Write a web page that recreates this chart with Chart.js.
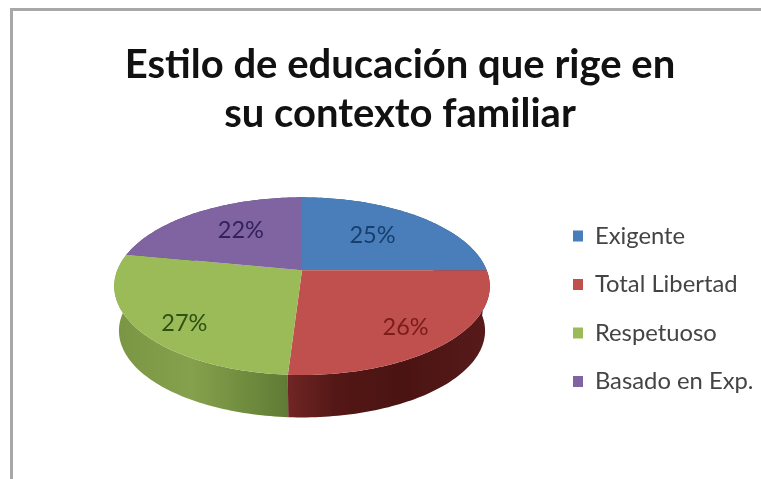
<!DOCTYPE html>
<html><head><meta charset="utf-8">
<style>
html,body{margin:0;padding:0;background:#fff;overflow:hidden}
#wrap{position:relative;width:761px;height:479px}
canvas{position:absolute;left:0;top:0;filter:blur(0.6px)}
#frame{position:absolute;left:10px;top:8px;right:0;bottom:0;border-top:3px solid #a8a8a8;border-left:3px solid #a8a8a8;filter:blur(0.5px)}
</style>
<script src="https://cdn.jsdelivr.net/npm/chart.js@4"></script>
</head><body><div id="wrap"><div id="frame"></div><canvas id="c" width="761" height="479"></canvas></div>
<script>
const titleLines = ["Estilo de educación que rige en", "su contexto familiar"];
const categories = ["Exigente", "Total Libertad", "Respetuoso", "Basado en Exp."];
const shares = [25, 26, 27, 22];
const topColors = ["#4a7ebb", "#c0504d", "#9bbb59", "#8064a2"];
const labelColors = ["#173f6e", "#7a1c1a", "#2f5112", "#33205f"];
const sideStops = [
  ["#3a6390", "#2f5077"],
  ["#6e2523", "#541715", "#4a1412", "#571a1a"],
  ["#7a9644", "#86a14d", "#6f8c3e", "#5e7a35"],
  ["#604a7b", "#4f3c66"]
];
const labelRadius = [0.58, 0.74, 0.74, 0.56];
const labelDrop = [-2, 6, 11, -5];

const stretchX = 185 / 120, stretchY = 86.1 / 120, tilt = -0.18;
const depth = 45, bottomScale = 0.975;

function project(arc, ang, r, scale, drop) {
  const x = Math.cos(ang) * r, y = Math.sin(ang) * r, den = 1 + tilt * y, R = arc.outerRadius;
  return [arc.x + scale * R * stretchX * x / den, arc.y + scale * R * stretchY * y / den + drop];
}
function trace(ctx, arc, a0, a1, scale, drop, first) {
  const n = Math.max(4, Math.ceil(Math.abs(a1 - a0) * 48));
  for (let i = 0; i <= n; i++) {
    const p = project(arc, a0 + (a1 - a0) * i / n, 1, scale, drop);
    if (i === 0 && first) ctx.moveTo(p[0], p[1]); else ctx.lineTo(p[0], p[1]);
  }
}
const tiltedPie = {
  id: "tiltedPie",
  afterLayout(chart) {
    const lg = chart.legend;
    lg.left = 548.3; lg.right = 761; lg.top = 199.3; lg.bottom = 479;
  },
  beforeDatasetDraw(chart) {
    const ctx = chart.ctx, arcs = chart.getDatasetMeta(0).data;
    ctx.save();
    arcs.forEach((arc, i) => {
      const l = arc.x - arc.outerRadius * stretchX, r = arc.x + arc.outerRadius * stretchX;
      const g = ctx.createLinearGradient(l, 0, r, 0);
      const stops = sideStops[i];
      if (i === 1) { const m = (arc.x - l) / (r - l) - 0.03; g.addColorStop(m, stops[0]); g.addColorStop(m + 0.12, stops[1]); g.addColorStop(m + 0.3, stops[2]); g.addColorStop(1, stops[3]); }
      else if (i === 2) { g.addColorStop(0, stops[0]); g.addColorStop(0.2, stops[1]); g.addColorStop(0.35, stops[2]); g.addColorStop(0.47, stops[3]); g.addColorStop(1, stops[3]); }
      else { g.addColorStop(0, stops[0]); g.addColorStop(1, stops[1]); }
      ctx.beginPath();
      trace(ctx, arc, arc.startAngle, arc.endAngle, 1, 0, true);
      trace(ctx, arc, arc.endAngle, arc.startAngle, bottomScale, depth, false);
      ctx.closePath();
      ctx.fillStyle = g;
      ctx.fill();
    });
    arcs.forEach((arc) => {
      ctx.beginPath();
      const c = project(arc, 0, 0, 1, 0);
      ctx.moveTo(c[0], c[1]);
      trace(ctx, arc, arc.startAngle, arc.endAngle, 1, 0, false);
      ctx.closePath();
      ctx.fillStyle = arc.options.backgroundColor;
      ctx.fill();
    });
    ctx.font = "23.5px Lato";
    ctx.textAlign = "center";
    ctx.textBaseline = "middle";
    arcs.forEach((arc, i) => {
      const mid = (arc.startAngle + arc.endAngle) / 2;
      const p = project(arc, mid, labelRadius[i], 1, labelDrop[i]);
      ctx.fillStyle = labelColors[i];
      ctx.fillText(shares[i] + "%", p[0], p[1]);
    });
    ctx.restore();
    return false;
  }
};
new Chart(document.getElementById("c"), {
  type: "pie",
  data: { labels: categories, datasets: [{ data: shares, backgroundColor: topColors, borderWidth: 0 }] },
  plugins: [tiltedPie],
  options: {
    responsive: false, animation: false, devicePixelRatio: 1,
    layout: { padding: { left: 39, right: 0, top: 0, bottom: 89 } },
    plugins: {
      tooltip: { enabled: false },
      title: { display: true, text: titleLines, color: "#111", align: "center",
        font: { family: "Lato", size: 40, weight: "bold", lineHeight: 1.23 }, padding: { top: 40, bottom: 12 } },
      legend: { position: "right", align: "start", maxWidth: 196, labels: { boxWidth: 10, boxHeight: 11, color: "#444", padding: 24.7,
        font: { family: "Lato", size: 23.8 } } }
    }
  }
});
</script></body></html>
